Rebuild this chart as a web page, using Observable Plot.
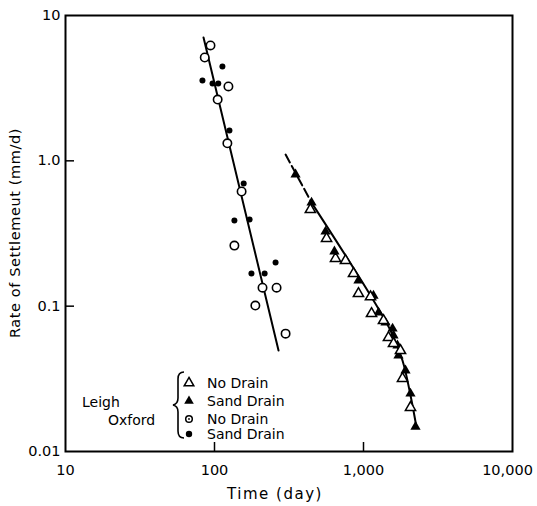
<!DOCTYPE html>
<html><head><meta charset="utf-8">
<script src="https://cdn.jsdelivr.net/npm/d3@7"></script>
<script src="https://cdn.jsdelivr.net/npm/@observablehq/plot@0.6"></script>
<style>body{margin:0;background:#fff;} #chart{width:537px;height:506px;}</style>
</head><body><div id="chart"></div>
<script>
// Axis ticks
const xTicks = [10, 100, 1000, 10000];
const xTickLabels = ["10", "100", "1,000", "10,000"];
const yTicks = [0.01, 0.1, 1, 10];
const yTickLabels = ["0.01", "0.1", "1.0", "10"];
const xTitle = "Time (day)";
const yTitle = "Rate of Settlemeut (mm/d)";

// Oxford, no drain (open circles)
const oxfordNoDrainTime = [94, 86, 124, 105, 122, 152, 136, 210, 261, 188, 300];
const oxfordNoDrainRate = [6.22, 5.14, 3.25, 2.64, 1.32, 0.615, 0.261, 0.134, 0.134, 0.101, 0.0647];
// Oxford, sand drain (filled circles)
const oxfordSandTime = [83, 97, 106, 113, 126, 157, 136, 172, 257, 177, 217];
const oxfordSandRate = [3.57, 3.41, 3.41, 4.46, 1.62, 0.698, 0.388, 0.394, 0.1995, 0.1675, 0.1675];
// Leigh, no drain (open triangles)
const leighNoDrainTime = [440, 565, 649, 757, 857, 925, 1114, 1132, 1362, 1471, 1590, 1771, 1827, 2067];
const leighNoDrainRate = [0.462, 0.292, 0.213, 0.206, 0.1675, 0.122, 0.116, 0.0889, 0.0796, 0.0608, 0.0553, 0.0495, 0.0318, 0.0201];
// Leigh, sand drain (filled triangles)
const leighSandTime = [350, 448, 556, 638, 925, 1167, 1262, 1405, 1567, 1590, 1691, 1717, 1914, 2067, 2234];
const leighSandRate = [0.805, 0.516, 0.326, 0.238, 0.150, 0.118, 0.0904, 0.0771, 0.0701, 0.0628, 0.0536, 0.0457, 0.0361, 0.0250, 0.0148];
// Fitted lines
const oxfordFitTime = [84.4, 269];
const oxfordFitRate = [7.06, 0.0495];
const leighDashTime = [300, 448];
const leighDashRate = [1.105, 0.516];
const leighFitTime = [448, 1064, 1518, 1827, 2067, 2270];
const leighFitRate = [0.516, 0.128, 0.068, 0.0423, 0.0244, 0.0146];

const legendGroups = ["Leigh", "Oxford"];
const legendItems = ["No Drain", "Sand Drain", "No Drain", "Sand Drain"];

const zip = (ts, rs) => ts.map((t, i) => ({t, r: rs[i]}));
const font = "DejaVu Sans";
const fmtX = d => xTickLabels[xTicks.indexOf(d)];

const chart = Plot.plot({
  width: 537, height: 506,
  marginLeft: 65, marginRight: 25, marginTop: 15, marginBottom: 55,
  style: {fontFamily: font, fontSize: "14px", color: "#000", background: "#fff"},
  x: {type: "log", domain: [10, 10000]},
  y: {type: "log", domain: [0.01, 10]},
  marks: [
    Plot.axisX(xTicks.slice(0, 3), {tickSize: 0, tickPadding: 13, tickFormat: fmtX, label: null, fontSize: 14.5}),
    Plot.axisX(xTicks.slice(3), {tickSize: 0, tickPadding: 13, tickFormat: fmtX, label: null, fontSize: 14.5, dx: -5}),
    Plot.axisX(xTicks.slice(1, 3), {tickSize: -9, tickFormat: () => "", label: null, strokeWidth: 1.5}),
    Plot.axisY(yTicks, {tickSize: 0, tickPadding: 5, tickFormat: d => yTickLabels[yTicks.indexOf(d)], label: null, fontSize: 14.5}),
    Plot.axisY(yTicks.slice(1, 3), {tickSize: -9, tickFormat: () => "", label: null, strokeWidth: 1.5}),
    Plot.frame({stroke: "#000", strokeWidth: 2}),
    Plot.line(zip(oxfordFitTime, oxfordFitRate), {x: "t", y: "r", stroke: "#000", strokeWidth: 2}),
    Plot.line(zip(leighDashTime, leighDashRate), {x: "t", y: "r", stroke: "#000", strokeWidth: 2, strokeDasharray: "9,4"}),
    Plot.line(zip(leighFitTime, leighFitRate), {x: "t", y: "r", stroke: "#000", strokeWidth: 2, curve: "catmull-rom"}),
    Plot.dot(zip(oxfordSandTime, oxfordSandRate), {x: "t", y: "r", r: 3, fill: "#000"}),
    Plot.dot(zip(oxfordNoDrainTime, oxfordNoDrainRate), {x: "t", y: "r", r: 4.2, fill: "#fff", stroke: "#000", strokeWidth: 1.6}),
    Plot.dot(zip(leighSandTime, leighSandRate), {x: "t", y: "r", symbol: "triangle", r: 3.8, fill: "#000"}),
    Plot.dot(zip(leighNoDrainTime, leighNoDrainRate), {x: "t", y: "r", symbol: "triangle", r: 3.8, fill: "#fff", stroke: "#000", strokeWidth: 1.5})
  ]
});
document.getElementById("chart").appendChild(chart);

const svg = d3.select(chart);
// axis titles
svg.append("text").attr("x", 275).attr("y", 499).attr("text-anchor", "middle")
  .attr("font-family", font).attr("font-size", 15).attr("letter-spacing", 1.5).text(xTitle);
svg.append("text").attr("transform", "translate(20,233) rotate(-90)").attr("text-anchor", "middle")
  .attr("font-family", font).attr("font-size", 14.5).attr("letter-spacing", 0.6).text(yTitle);

// legend
const lg = svg.append("g").attr("font-family", font).attr("font-size", 14).attr("text-anchor", "start");
lg.append("text").attr("x", 82).attr("y", 407).text(legendGroups[0]);
lg.append("text").attr("x", 108).attr("y", 425).text(legendGroups[1]);
lg.append("path").attr("d", "M184,372 Q178,372 178,379 L178,398 Q178,404 173,405 Q178,406 178,412 L178,431 Q178,438 184,438")
  .attr("fill", "none").attr("stroke", "#000").attr("stroke-width", 1.6);
const rowsY = [383, 401, 419, 434];
const sym = (type, a) => d3.symbol(type, a)();
lg.append("path").attr("transform", `translate(189,${rowsY[0]})`).attr("d", sym(d3.symbolTriangle, 40)).attr("fill", "#fff").attr("stroke", "#000").attr("stroke-width", 1.5);
lg.append("path").attr("transform", `translate(189,${rowsY[1]})`).attr("d", sym(d3.symbolTriangle, 40)).attr("fill", "#000");
lg.append("circle").attr("cx", 189).attr("cy", rowsY[2]).attr("r", 3.3).attr("fill", "#fff").attr("stroke", "#000").attr("stroke-width", 1.5);
lg.append("circle").attr("cx", 189).attr("cy", rowsY[2]).attr("r", 0.9).attr("fill", "#000");
lg.append("circle").attr("cx", 189).attr("cy", rowsY[3]).attr("r", 3.2).attr("fill", "#000");
legendItems.forEach((s, i) => {
  lg.append("text").attr("x", 207).attr("y", rowsY[i] + 5).text(s);
});
</script>
</body></html>
